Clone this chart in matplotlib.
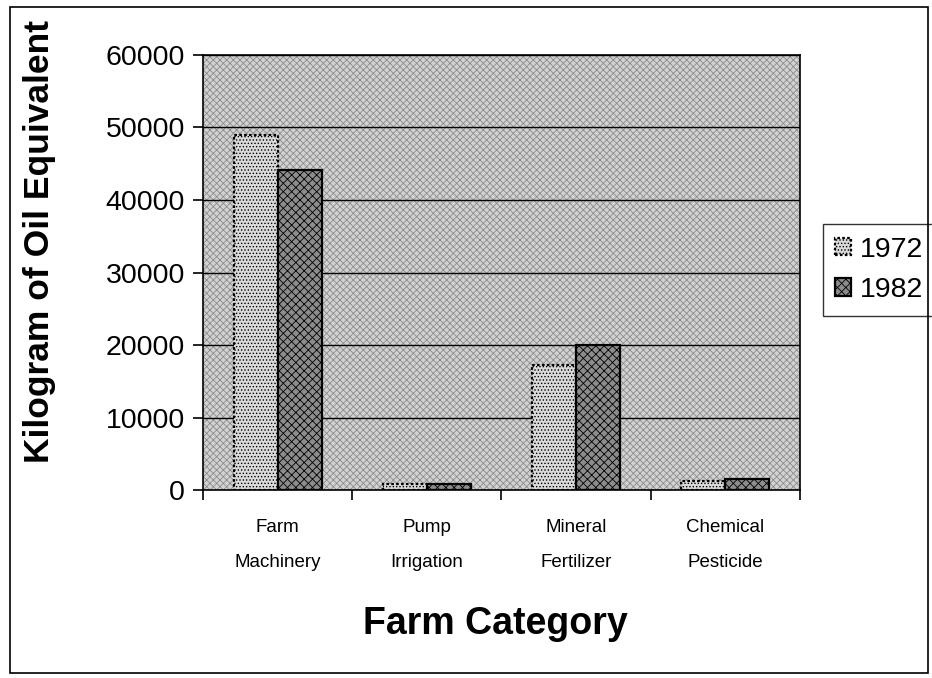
import numpy as np
import matplotlib.pyplot as plt
from matplotlib.patches import Rectangle

plt.rcParams['font.family'] = ['Liberation Sans', 'DejaVu Sans']
plt.rcParams['hatch.linewidth'] = 0.6

categories = ['Farm\nMachinery', 'Pump\nIrrigation', 'Mineral\nFertilizer', 'Chemical\nPesticide']
values_1972 = [49000, 900, 17200, 1300]
values_1982 = [44200, 800, 20000, 1500]
yticks = [0, 10000, 20000, 30000, 40000, 50000, 60000]

fig = plt.figure(figsize=(9.32, 6.78), dpi=100)
ax = fig.add_axes([0.218, 0.277, 0.640, 0.642])

# halftone-like plot background
bg = Rectangle((0, 0), 1, 1, transform=ax.transAxes, facecolor='#d2d2d2',
               edgecolor='#8c8c8c', hatch='xxxxx', lw=0, zorder=0)
ax.add_patch(bg)
ax.set_facecolor('none')

x = np.arange(len(categories))
w = 0.295
b1 = ax.bar(x - w / 2, values_1972, w, facecolor='#dadada', edgecolor='black',
            linestyle=(0, (1.2, 1)), linewidth=1.6, hatch='.....', zorder=3, label='1972')
b2 = ax.bar(x + w / 2, values_1982, w, facecolor='#8c8c8c', edgecolor='black',
            linewidth=1.6, hatch='xxxx', zorder=3, label='1982')

ax.set_ylim(0, 60000)
ax.set_xlim(-0.5, len(categories) - 0.5)
ax.set_yticks(yticks)
ax.set_yticklabels([str(v) for v in yticks], fontsize=20.5)
ax.yaxis.grid(True, color='black', linewidth=1.0)
ax.set_axisbelow(False)
for gl in ax.get_ygridlines():
    gl.set_zorder(2)

ax.set_xticks(x)
ax.set_xticklabels(categories, fontsize=13.5, linespacing=2.35)
ax.set_xticks(np.arange(len(categories) + 1) - 0.5, minor=True)
ax.tick_params(axis='x', which='major', length=0, pad=21)
ax.tick_params(axis='x', which='minor', length=7, width=1.2, direction='out')
ax.tick_params(axis='y', length=7, width=1.2, direction='out', pad=6)

for s in ax.spines.values():
    s.set_linewidth(1.2)
    s.set_zorder(4)

ax.set_ylabel('Kilogram of Oil Equivalent', fontsize=25.5, fontweight='bold')
ax.yaxis.set_label_coords(-0.246, 0.572)
ax.set_xlabel('Farm Category', fontsize=27, fontweight='bold')
ax.xaxis.set_label_coords(0.49, -0.265)

leg = ax.legend(loc='center left', bbox_to_anchor=(1.0385, 0.506), borderaxespad=0,
                fontsize=20.5, frameon=True, fancybox=False, edgecolor='black',
                handlelength=0.55, handleheight=0.55, handletextpad=0.3,
                borderpad=0.45, labelspacing=0.5)
leg.get_frame().set_linewidth(1.0)

# outer chart border
fig.patches.append(Rectangle((0.011, 0.008), 0.985, 0.982, transform=fig.transFigure,
                             fill=False, edgecolor='black', linewidth=1.2))

fig.savefig('out.png', dpi=100, facecolor='white')
